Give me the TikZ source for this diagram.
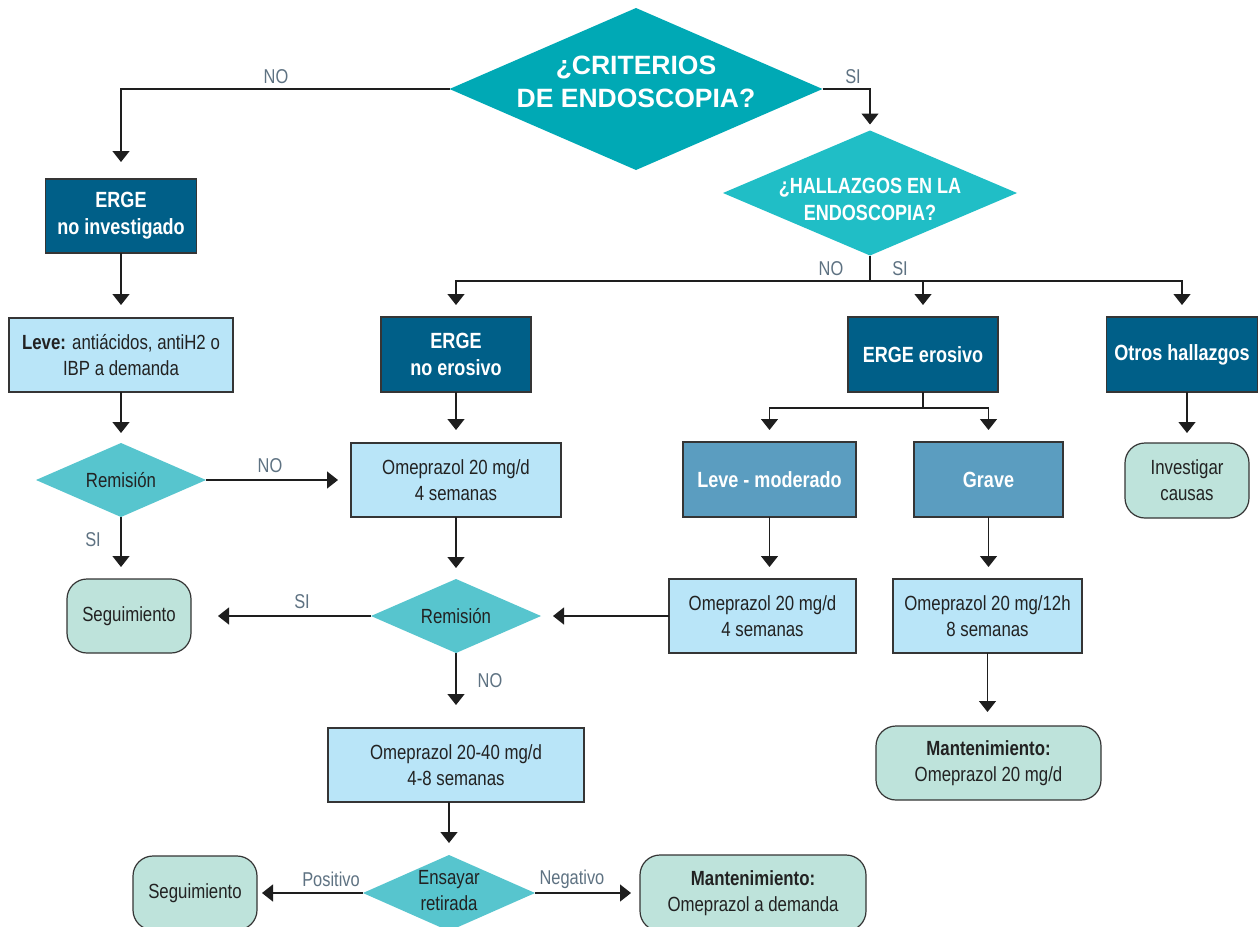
\documentclass[tikz,border=0pt]{standalone}
\usepackage{fontspec}
\setmainfont{Liberation Sans}[FakeStretch=0.82]
\newfontfamily\widefont{Liberation Sans}
\usetikzlibrary{shapes.geometric,arrows.meta}
\definecolor{tealA}{HTML}{00A9B5}
\definecolor{tealB}{HTML}{20BEC6}
\definecolor{tealC}{HTML}{57C5CE}
\definecolor{dblue}{HTML}{005F88}
\definecolor{mblue}{HTML}{5B9DC0}
\definecolor{lblue}{HTML}{B9E5F8}
\definecolor{mint}{HTML}{BEE3DB}
\definecolor{labc}{HTML}{5E7282}
\definecolor{linec}{HTML}{1E1E1E}
\definecolor{txtc}{HTML}{222222}
\newcommand\regf{\fontsize{20.5}{26}\selectfont}
\newcommand\bldf{\fontsize{22}{27}\selectfont\bfseries}
\newcommand\labf{\fontsize{20}{24}\selectfont}
\begin{document}
\begin{tikzpicture}[x=1pt,y=-1pt,
  boxbase/.style={draw=linec!90, line width=1.2pt, inner sep=0pt, outer sep=0pt, align=center},
  darkbox/.style={boxbase, fill=dblue, text=white, font=\bldf},
  midbox/.style={boxbase, fill=mblue, text=white, font=\bldf},
  lightbox/.style={boxbase, fill=lblue, text=txtc, font=\regf},
  endbox/.style={boxbase, rounded corners=20pt, fill=mint, text=txtc, font=\regf},
  dia/.style={shape=diamond, inner sep=0pt, outer sep=0pt, draw=none},
  diatext/.style={align=center, inner sep=0pt},
  lab/.style={text=labc, font=\labf, inner sep=0pt},
  conn/.style={draw=linec, line width=1.3pt},
  arr/.style={conn, -{Triangle[width=17pt,length=11pt]}}
]
\clip (0,0) rectangle (1260,926);
\fill[white] (0,0) rectangle (1260,926);

% decision diamonds
\node[dia, fill=tealA, minimum width=373pt, minimum height=162pt] (d1) at (636,89) {};
\node[diatext, text=white, font=\widefont\fontsize{26.5}{33}\selectfont\bfseries] (d1t) at (636,82) {¿CRITERIOS\\DE ENDOSCOPIA?};
\node[dia, fill=tealB, minimum width=294pt, minimum height=125pt] (d2) at (870,193) {};
\node[diatext, text=white, font=\bldf] (d2t) at (870,199) {¿HALLAZGOS EN LA\\ENDOSCOPIA?};
\node[dia, fill=tealC, minimum width=170pt, minimum height=74pt] (r1) at (121,480) {};
\node[diatext, text=txtc, font=\regf] (r1t) at (121,480) {Remisión};
\node[dia, fill=tealC, minimum width=170pt, minimum height=74pt] (r2) at (456,616) {};
\node[diatext, text=txtc, font=\regf] (r2t) at (456,616) {Remisión};
\node[dia, fill=tealC, minimum width=172pt, minimum height=76pt] (ens) at (449,893) {};
\node[diatext, text=txtc, font=\regf] (enst) at (449,891) {Ensayar\\retirada};

% boxes
\node[darkbox, minimum width=151pt, minimum height=74pt] (b1) at (121,216) {ERGE\\no investigado};
\node[lightbox, minimum width=224pt, minimum height=74pt] (leve) at (121,355) {{\bfseries Leve:} antiácidos, antiH2 o\\IBP a demanda};
\node[endbox, minimum width=124pt, minimum height=74pt] (seg1) at (129,616) {Seguimiento};
\node[darkbox, minimum width=150pt, minimum height=75pt] (ne) at (456,354.5) {ERGE\\no erosivo};
\node[lightbox, minimum width=210pt, minimum height=74pt] (om1) at (456,480) {Omeprazol 20 mg/d\\4 semanas};
\node[lightbox, minimum width=256pt, minimum height=74pt] (om2) at (456,765) {Omeprazol 20-40 mg/d\\4-8 semanas};
\node[endbox, minimum width=124pt, minimum height=74pt] (seg2) at (195,893) {Seguimiento};
\node[endbox, minimum width=226pt, minimum height=76pt] (mant2) at (753,893) {{\bfseries Mantenimiento:}\\Omeprazol a demanda};
\node[darkbox, minimum width=150pt, minimum height=75pt] (ero) at (923,354.5) {ERGE erosivo};
\node[darkbox, minimum width=151pt, minimum height=75pt] (otros) at (1182,354.5) {Otros hallazgos};
\node[midbox, minimum width=173pt, minimum height=75pt] (lm) at (769.5,479.5) {Leve - moderado};
\node[midbox, minimum width=149pt, minimum height=75pt] (grave) at (988.5,479.5) {Grave};
\node[lightbox, minimum width=187pt, minimum height=74pt] (om3) at (762.5,616) {Omeprazol 20 mg/d\\4 semanas};
\node[lightbox, minimum width=189pt, minimum height=74pt] (om4) at (987.5,616) {Omeprazol 20 mg/12h\\8 semanas};
\node[endbox, minimum width=225pt, minimum height=74pt] (mant1) at (988.5,763) {{\bfseries Mantenimiento:}\\Omeprazol 20 mg/d};
\node[endbox, minimum width=124pt, minimum height=75pt] (inv) at (1187,480.5) {Investigar\\causas};

% connectors
\draw[arr, shorten >=17pt] (d1.west) -| (b1.north);
\draw[arr, shorten >=6pt] (d1.east) -| (d2.north);
\draw[arr, shorten >=13pt] (b1.south) -- (leve.north);
\draw[arr, shorten >=10pt] (leve.south) -- (r1.north);
\draw[arr, shorten >=13pt] (r1.east) -- (om1.west);
\draw[arr, shorten >=12pt] (r1.south) -- (r1.south |- seg1.north);
\coordinate (split) at (870,281);
\draw[conn] (d2.south) -- (split);
\draw[arr, shorten >=12pt] (split) -| (ne.north);
\draw[arr, shorten >=12pt] (split) -| (ero.north);
\draw[arr, shorten >=12pt] (split) -| (otros.north);
\draw[arr, shorten >=13pt] (ne.south) -- (om1.north);
\draw[arr, shorten >=11pt] (om1.south) -- (r2.north);
\draw[arr, shorten >=27pt] (r2.west) -- (r2.west -| seg1.east);
\draw[arr, shorten >=12pt] (om3.west) -- (r2.east);
\draw[arr, shorten >=23pt] (r2.south) -- (om2.north);
\draw[arr, shorten >=12pt] (ens.north |- om2.south) -- (ens.north);
\draw[arr, shorten >=5pt] (ens.west) -- (ens.west -| seg2.east);
\draw[arr, shorten >=9pt] (ens.east) -- (ens.east -| mant2.west);
\coordinate (esplit) at (923,408);
\draw[conn] (ero.south) -- (esplit);
\draw[arr, shorten >=12pt] (esplit) -| (lm.north);
\draw[arr, shorten >=12pt] (esplit) -| (grave.north);
\draw[arr, shorten >=12pt] (lm.south) -- (lm.south |- om3.north);
\draw[arr, shorten >=12pt] (grave.south) -- (grave.south |- om4.north);
\draw[arr, shorten >=14pt] (om4.south) -- (om4.south |- mant1.north);
\draw[arr, shorten >=10pt] (inv.north |- otros.south) -- (inv.north);

% labels
\node[lab] (l1) at (276,77) {NO};
\node[lab] (l2) at (853,77) {SI};
\node[lab] (l3) at (831,269) {NO};
\node[lab] (l4) at (900,269) {SI};
\node[lab] (l5) at (270,466) {NO};
\node[lab] (l6) at (93,540) {SI};
\node[lab] (l7) at (302,602) {SI};
\node[lab] (l8) at (490,681) {NO};
\node[lab] (l9) at (331,879) {Positivo};
\node[lab] (l10) at (572,879) {Negativo};
\end{tikzpicture}
\end{document}
